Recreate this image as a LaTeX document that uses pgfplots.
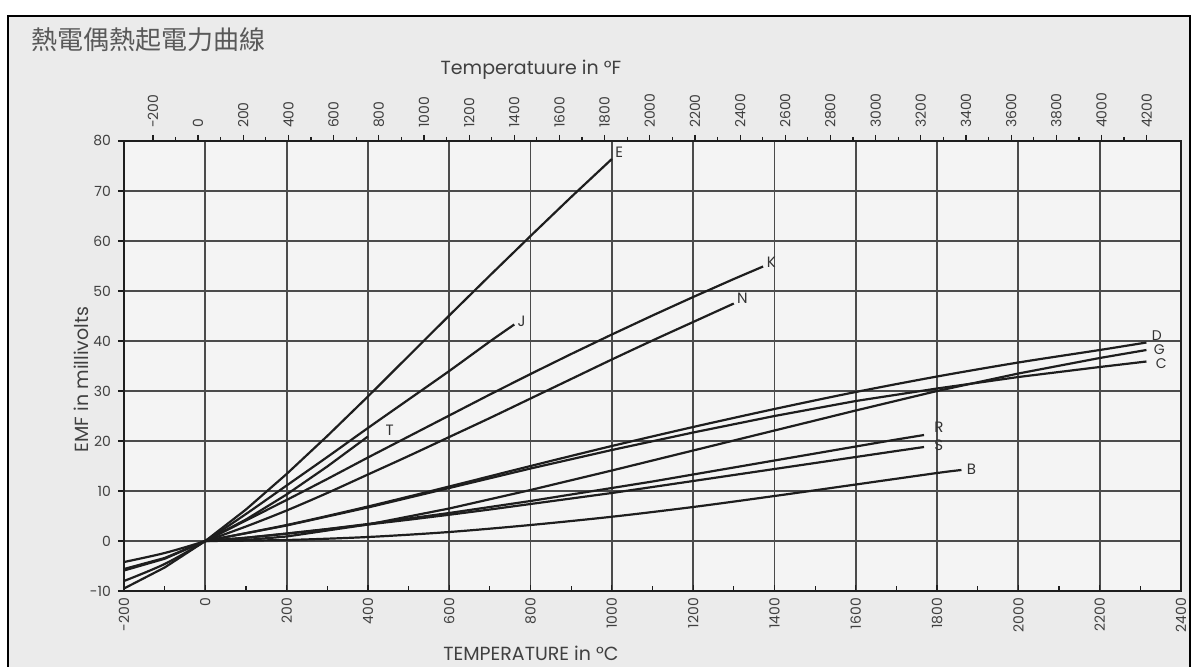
\documentclass[border=0pt]{standalone}
\usepackage{fontspec}
\setmainfont{Poppins}
\newfontfamily\cjk{Noto Sans CJK TC}
\usepackage{pgfplots}
\pgfplotsset{compat=1.18}
\definecolor{paper}{HTML}{EBEBEB}
\definecolor{ink}{HTML}{1E1E1E}
\begin{document}
\begin{tikzpicture}
\useasboundingbox (0,0) rectangle (598pt,333pt);
\fill[white] (0,0) rectangle (598pt,333pt);
\fill[paper] (4pt,-2pt) rectangle (595pt,325pt);
\draw[black,line width=1.2pt] (4pt,-2pt) rectangle (595pt,325pt);
\node[anchor=west,font=\cjk\fontsize{13}{14}\selectfont,text=black!65] at (12pt,313pt) {熱電偶熱起電力曲線};
\begin{axis}[
  at={(62pt,37.5pt)}, anchor=south west,
  scale only axis, width=528.5pt, height=225pt,
  xmin=-200, xmax=2400, ymin=-10, ymax=80,
  axis background/.style={fill=gray!9},
  xtick={-200,0,...,2400}, ytick={-10,0,...,80},
  minor x tick num=1,
  grid=major,
  major grid style={ink!80,line width=0.9pt},
  axis line style={ink,line width=0.9pt},
  tick style={ink,line width=0.6pt},
  major tick length=3pt, minor tick length=2.5pt,
  xtick pos=bottom, ytick pos=left,
  xtick align=inside, ytick align=outside,
  /pgf/number format/assume math mode=true,
  /pgf/number format/1000 sep={},
  tick label style={font=\fontsize{7}{8}\selectfont, text=black!75},
  xticklabel style={rotate=90, anchor=east},
  xlabel={TEMPERATURE in °C},
  xlabel style={font=\fontsize{9.5}{10}\selectfont, text=black!75, at={(axis description cs:0.385,0)}, anchor=north, yshift=-24pt},
  ylabel={EMF in millivolts},
  ylabel style={font=\fontsize{9.5}{10}\selectfont, text=black!75, at={(axis description cs:0,0.47)}, yshift=14pt},
  cycle list={{ink,smooth,no markers}},
  every axis plot post/.append style={line width=1.1pt, ink},
  clip=false,
]
% E
\addplot coordinates {(-200,-9.5) (-100,-5.3) (0,0) (100,6.3) (200,13.4) (300,21.0) (400,28.9) (500,37.0) (600,45.1) (700,53.1) (800,61.0) (900,68.8) (1000,76.4)};
% J
\addplot coordinates {(-200,-8.0) (-100,-4.6) (0,0) (100,5.4) (200,11.1) (300,16.8) (400,22.6) (500,28.3) (600,34.0) (700,39.9) (760,43.3)};
% T
\addplot coordinates {(-200,-5.6) (-100,-3.4) (0,0) (100,4.3) (200,9.3) (300,14.9) (400,20.9)};
% K
\addplot coordinates {(-200,-5.9) (-100,-3.55) (0,0) (100,4.1) (200,8.2) (300,12.4) (400,16.7) (500,20.9) (600,25.1) (700,29.3) (800,33.4) (900,37.4) (1000,41.3) (1100,45.1) (1200,48.8) (1300,52.4) (1372,54.9)};
% N
\addplot coordinates {(-200,-4.2) (-100,-2.4) (0,0) (100,2.9) (200,6.1) (300,9.6) (400,13.3) (500,17.0) (600,20.8) (700,24.6) (800,28.5) (900,32.4) (1000,36.3) (1100,40.1) (1200,43.8) (1300,47.5)};
% R
\addplot coordinates {(0,0) (100,0.65) (200,1.5) (300,2.4) (400,3.4) (500,4.5) (600,5.6) (700,6.8) (800,8.0) (900,9.3) (1000,10.6) (1100,11.9) (1200,13.3) (1300,14.7) (1400,16.1) (1500,17.5) (1600,18.9) (1700,20.3) (1768,21.2)};
% S
\addplot coordinates {(0,0) (100,0.65) (200,1.45) (300,2.35) (400,3.3) (500,4.25) (600,5.25) (700,6.3) (800,7.4) (900,8.5) (1000,9.6) (1100,10.8) (1200,12.0) (1300,13.2) (1400,14.4) (1500,15.6) (1600,16.8) (1700,18.0) (1768,18.8)};
% B
\addplot coordinates {(0,0) (200,0.2) (400,0.8) (600,1.8) (800,3.2) (1000,4.85) (1200,6.8) (1400,9.0) (1600,11.3) (1800,13.6) (1860,14.2)};
% C
\addplot coordinates {(0,0) (200,3.1) (400,6.7) (600,10.6) (800,14.5) (1000,18.2) (1200,21.7) (1400,25.0) (1600,28.0) (1800,30.5) (2000,32.8) (2200,34.8) (2315,35.9)};
% G
\addplot coordinates {(0,0) (100,0.2) (200,0.9) (400,3.3) (600,6.5) (800,10.2) (1000,14.1) (1200,18.1) (1400,22.1) (1600,26.1) (1800,30.0) (2000,33.5) (2200,36.6) (2315,38.2)};
% D
\addplot coordinates {(0,0) (200,3.2) (400,6.9) (600,10.9) (800,15.0) (1000,19.0) (1200,22.8) (1400,26.4) (1600,29.8) (1800,32.9) (2000,35.7) (2200,38.2) (2315,39.7)};
\begin{scope}[every node/.style={font=\fontsize{7.5}{8}\selectfont, text=black!80, anchor=west, inner sep=0.5pt}]
\node at (axis cs:1005,77.8) {E};
\node at (axis cs:765,44) {J};
\node at (axis cs:440,22.2) {T};
\node at (axis cs:1378,55.8) {K};
\node at (axis cs:1305,48.6) {N};
\node at (axis cs:1790,22.8) {R};
\node at (axis cs:1790,19.2) {S};
\node at (axis cs:1870,14.3) {B};
\node[font=\fontsize{7}{7.5}\selectfont] at (axis cs:2325,41.0) {D};
\node[font=\fontsize{7}{7.5}\selectfont] at (axis cs:2330,38.2) {G};
\node[font=\fontsize{7}{7.5}\selectfont] at (axis cs:2335,35.4) {C};
\end{scope}
\end{axis}
\begin{axis}[
  at={(62pt,37.5pt)}, anchor=south west,
  scale only axis, width=528.5pt, height=225pt,
  xmin=-328, xmax=4352, ymin=-10, ymax=80,
  axis x line*=top, axis y line=none,
  xtick={-200,0,...,4200}, minor x tick num=1,
  axis line style={ink,line width=0.9pt},
  tick style={ink,line width=0.6pt},
  major tick length=3pt, minor tick length=2pt,
  xtick align=outside,
  /pgf/number format/assume math mode=true,
  /pgf/number format/1000 sep={},
  tick label style={font=\fontsize{7}{8}\selectfont, text=black!75},
  xticklabel style={rotate=90, anchor=west},
  xlabel={Temperatuure in °F},
  xlabel style={font=\fontsize{9.5}{10}\selectfont, text=black!75, at={(axis description cs:0.385,1)}, anchor=south, yshift=27pt},
]
\end{axis}
\end{tikzpicture}
\end{document}
